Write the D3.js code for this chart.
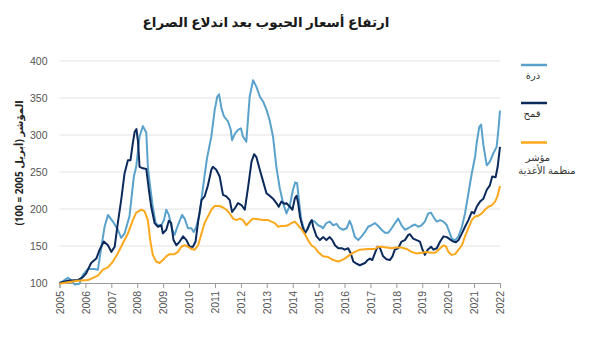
<!DOCTYPE html>
<html lang="ar">
<head>
<meta charset="utf-8">
<script src="https://cdn.jsdelivr.net/npm/d3@7"></script>
<style>
  html, body { margin: 0; padding: 0; background: #fff; }
  svg { display: block; font-family: "Open Sans", "DejaVu Sans", sans-serif; }
  .gridline { stroke: #e3e3e3; stroke-width: 1; }
  .axis path, .axis line { stroke: #9a9a9a; }
  .axis text { fill: #555; font-size: 10.5px; }
  .series { fill: none; stroke-width: 2; stroke-linejoin: round; }
</style>
</head>
<body>
<div id="chart"></div>
<script>
// Grain prices after the outbreak of the conflict: corn, wheat and the FAO index,
// indexed to April 2005 = 100. Values.

const title = "ارتفاع أسعار الحبوب بعد اندلاع الصراع";
const yTitle = "المؤشر (أبريل 2005 = 100)";
const yTicks = [100, 150, 200, 250, 300, 350, 400];
const xYears = d3.range(2005, 2023);

const cornDates = [2005.00, 2005.15, 2005.32, 2005.45, 2005.58, 2005.77, 2005.90, 2006.10, 2006.35, 2006.48,
  2006.60, 2006.74, 2006.87, 2007.06, 2007.25, 2007.38, 2007.51, 2007.70, 2007.87, 2007.96,
  2008.09, 2008.22, 2008.35, 2008.41, 2008.50, 2008.60, 2008.71, 2008.80, 2008.93, 2009.03,
  2009.12, 2009.22, 2009.35, 2009.44, 2009.57, 2009.73, 2009.83, 2009.96, 2010.09, 2010.18,
  2010.28, 2010.41, 2010.54, 2010.69, 2010.86, 2010.99, 2011.09, 2011.16, 2011.25, 2011.35,
  2011.51, 2011.61, 2011.66, 2011.77, 2011.89, 2012.00, 2012.08, 2012.21, 2012.34, 2012.47,
  2012.60, 2012.73, 2012.86, 2012.99, 2013.11, 2013.24, 2013.37, 2013.50, 2013.63, 2013.76,
  2013.89, 2014.01, 2014.10, 2014.17, 2014.24, 2014.33, 2014.47, 2014.59, 2014.72, 2014.85,
  2014.98, 2015.11, 2015.17, 2015.30, 2015.43, 2015.56, 2015.69, 2015.82, 2015.95, 2016.08,
  2016.20, 2016.27, 2016.40, 2016.53, 2016.66, 2016.79, 2016.91, 2017.04, 2017.17, 2017.30,
  2017.43, 2017.56, 2017.69, 2017.82, 2017.95, 2018.07, 2018.20, 2018.33, 2018.46, 2018.59,
  2018.72, 2018.85, 2018.97, 2019.10, 2019.23, 2019.34, 2019.47, 2019.56, 2019.69, 2019.82,
  2019.95, 2020.01, 2020.14, 2020.27, 2020.40, 2020.53, 2020.65, 2020.78, 2020.91, 2021.04,
  2021.10, 2021.20, 2021.27, 2021.36, 2021.49, 2021.61, 2021.74, 2021.87, 2021.93, 2022.00];
const cornValues = [100, 103, 107, 104, 98, 99, 111, 119, 119, 118,
  145, 176, 192, 183, 172, 161, 167, 190, 244, 257,
  298, 312, 303, 257, 230, 203, 181, 178, 178, 185,
  199, 192, 172, 165, 178, 192, 187, 174, 174, 169,
  176, 194, 230, 268, 298, 334, 352, 355, 336, 325,
  318, 307, 293, 302, 307, 309, 298, 291, 352, 374,
  365, 352, 345, 334, 320, 298, 257, 228, 208, 194,
  205, 226, 236, 235, 212, 185, 169, 174, 184, 183,
  178, 176, 174, 181, 183, 178, 180, 174, 172, 174,
  184, 178, 162, 158, 163, 169, 176, 178, 181, 177,
  172, 168, 168, 174, 181, 187, 178, 172, 174, 177,
  179, 176, 178, 183, 194, 195, 187, 183, 185, 183,
  178, 172, 160, 158, 163, 176, 194, 221, 248, 271,
  289, 311, 314, 286, 259, 264, 275, 284, 304, 333];

const wheatDates = [2005.00, 2005.32, 2005.71, 2005.90, 2006.03, 2006.22, 2006.42, 2006.55, 2006.71, 2006.87,
  2007.00, 2007.13, 2007.25, 2007.38, 2007.51, 2007.64, 2007.74, 2007.83, 2007.90, 2007.97,
  2008.03, 2008.09, 2008.22, 2008.35, 2008.45, 2008.54, 2008.67, 2008.80, 2008.93, 2008.99,
  2009.12, 2009.22, 2009.31, 2009.40, 2009.51, 2009.64, 2009.77, 2009.90, 2010.02, 2010.15,
  2010.25, 2010.35, 2010.48, 2010.60, 2010.73, 2010.86, 2010.92, 2011.05, 2011.18, 2011.31,
  2011.44, 2011.57, 2011.66, 2011.77, 2011.89, 2012.03, 2012.15, 2012.28, 2012.41, 2012.51,
  2012.60, 2012.73, 2012.86, 2012.99, 2013.11, 2013.24, 2013.37, 2013.46, 2013.56, 2013.69,
  2013.76, 2013.89, 2013.99, 2014.08, 2014.15, 2014.21, 2014.28, 2014.38, 2014.47, 2014.56,
  2014.66, 2014.74, 2014.79, 2014.92, 2015.05, 2015.18, 2015.30, 2015.43, 2015.53, 2015.63,
  2015.76, 2015.89, 2016.01, 2016.14, 2016.24, 2016.34, 2016.47, 2016.59, 2016.79, 2016.89,
  2016.98, 2017.07, 2017.17, 2017.27, 2017.36, 2017.49, 2017.62, 2017.75, 2017.85, 2017.94,
  2018.07, 2018.20, 2018.33, 2018.46, 2018.52, 2018.65, 2018.78, 2018.91, 2019.01, 2019.10,
  2019.21, 2019.34, 2019.43, 2019.56, 2019.69, 2019.82, 2019.95, 2020.07, 2020.20, 2020.30,
  2020.40, 2020.53, 2020.65, 2020.78, 2020.91, 2021.00, 2021.10, 2021.23, 2021.36, 2021.49,
  2021.61, 2021.70, 2021.83, 2021.91, 2022.00];
const wheatValues = [100, 103, 104, 108, 113, 127, 133, 145, 156, 151,
  142, 149, 181, 212, 248, 266, 266, 289, 304, 308,
  291, 257, 255, 254, 226, 203, 181, 176, 178, 167,
  172, 184, 181, 158, 151, 156, 163, 158, 149, 149,
  156, 183, 212, 217, 232, 253, 257, 253, 244, 219,
  217, 212, 196, 201, 208, 205, 199, 230, 264, 274,
  270, 253, 237, 221, 218, 214, 208, 203, 210, 207,
  208, 203, 199, 214, 218, 208, 190, 176, 167, 172,
  181, 185, 176, 163, 158, 162, 158, 162, 158, 151,
  147, 147, 145, 147, 140, 129, 126, 124, 127, 131,
  133, 131, 140, 149, 148, 136, 132, 131, 136, 145,
  147, 156, 158, 165, 166, 160, 158, 156, 145, 138,
  145, 149, 145, 147, 156, 163, 162, 159, 156, 155,
  158, 167, 176, 185, 196, 194, 203, 210, 214, 226,
  232, 244, 243, 257, 284];

const faoDates = [2005.00, 2005.32, 2005.71, 2006.10, 2006.29, 2006.48, 2006.68, 2006.87, 2007.06, 2007.25,
  2007.45, 2007.64, 2007.83, 2007.96, 2008.16, 2008.28, 2008.41, 2008.50, 2008.60, 2008.73,
  2008.86, 2008.99, 2009.12, 2009.25, 2009.44, 2009.57, 2009.70, 2009.83, 2009.96, 2010.09,
  2010.22, 2010.35, 2010.48, 2010.60, 2010.73, 2010.86, 2010.99, 2011.18, 2011.31, 2011.44,
  2011.57, 2011.70, 2011.83, 2011.96, 2012.08, 2012.21, 2012.34, 2012.47, 2012.66, 2012.86,
  2013.05, 2013.18, 2013.31, 2013.44, 2013.56, 2013.69, 2013.82, 2013.95, 2014.08, 2014.21,
  2014.33, 2014.47, 2014.59, 2014.72, 2014.85, 2014.98, 2015.17, 2015.37, 2015.56, 2015.76,
  2015.89, 2016.01, 2016.20, 2016.40, 2016.59, 2016.91, 2017.17, 2017.30, 2017.43, 2017.62,
  2017.82, 2018.01, 2018.20, 2018.39, 2018.59, 2018.78, 2018.97, 2019.16, 2019.36, 2019.50,
  2019.69, 2019.82, 2019.92, 2020.01, 2020.14, 2020.27, 2020.40, 2020.53, 2020.65, 2020.78,
  2020.91, 2021.04, 2021.17, 2021.30, 2021.42, 2021.55, 2021.68, 2021.81, 2021.90, 2022.00];
const faoValues = [99, 101, 103, 104, 107, 110, 118, 121, 129, 140,
  154, 167, 185, 195, 199, 197, 185, 158, 138, 129,
  127, 131, 136, 139, 139, 142, 149, 151, 149, 146,
  145, 151, 167, 181, 190, 199, 204, 204, 202, 199,
  194, 187, 185, 187, 185, 178, 183, 187, 186, 185,
  185, 183, 181, 176, 177, 177, 178, 181, 183, 178,
  173, 166, 158, 151, 148, 142, 136, 135, 131, 129,
  131, 133, 138, 142, 145, 146, 146, 149, 149, 148,
  147, 148, 148, 146, 142, 140, 141, 142, 141, 141,
  147, 151, 149, 142, 138, 139, 145, 151, 163, 174,
  185, 190, 191, 194, 199, 203, 205, 210, 217, 231];

const seriesNames = ["ذرة", "قمح", "مؤشر منظمة الأغذية"];
const seriesColors = ["#5aa2cb", "#0b2a5b", "#fca81c"];

const series = [
  { name: seriesNames[0], color: seriesColors[0], dates: cornDates, values: cornValues },
  { name: seriesNames[1], color: seriesColors[1], dates: wheatDates, values: wheatValues },
  { name: seriesNames[2], color: seriesColors[2], dates: faoDates, values: faoValues },
];

const width = 600, height = 352;
const m = { top: 61, right: 100, bottom: 69, left: 59.5 };
const iW = width - m.left - m.right;
const iH = height - m.top - m.bottom;

const x = d3.scaleLinear([2005, 2022], [0, iW]);
const y = d3.scaleLinear([100, 400], [iH, 0]);

const svg = d3.select("#chart").append("svg")
  .attr("width", width).attr("height", height)
  .attr("viewBox", `0 0 ${width} ${height}`);

svg.append("text")
  .attr("x", 266).attr("y", 27).attr("text-anchor", "middle")
  .attr("direction", "rtl")
  .style("font-size", "13.5px").style("font-weight", "bold").style("fill", "#1a1a1a")
  .text(title);

const g = svg.append("g").attr("transform", `translate(${m.left},${m.top})`);

g.append("g").selectAll("line").data(yTicks.filter((d) => d > 100)).join("line")
  .attr("class", "gridline")
  .attr("x1", 0).attr("x2", iW).attr("y1", (d) => y(d)).attr("y2", (d) => y(d));

// y labels only, no axis line
const yAxis = g.append("g").attr("class", "axis")
  .call(d3.axisLeft(y).tickValues(yTicks).tickSize(0).tickPadding(12));
yAxis.select(".domain").remove();

const xAxis = g.append("g").attr("class", "axis").attr("transform", `translate(0,${iH})`)
  .call(d3.axisBottom(x).tickValues(xYears).tickSize(5).tickFormat(d3.format("d")));
xAxis.selectAll("text")
  .attr("transform", "rotate(-90)")
  .attr("text-anchor", "end")
  .attr("x", -8).attr("y", 0).attr("dy", "0.35em");

g.append("text")
  .attr("transform", `translate(${-37},${iH / 2 - 9}) rotate(-90)`)
  .attr("text-anchor", "middle").attr("direction", "rtl")
  .style("font-size", "10px").style("font-weight", "bold").style("fill", "#222")
  .text(yTitle);

const line = d3.line().curve(d3.curveLinear);
for (const s of series) {
  const pts = s.dates.map((d, i) => [x(d), y(s.values[i])]);
  g.append("path").datum(pts).attr("class", "series")
    .attr("stroke", s.color).attr("d", line);
}

// Legend on the right: swatch above each label.
const legend = svg.append("g").attr("transform", "translate(521,0)");
const legendRows = [
  { sy: 65, lines: [{ t: "ذرة", x: 12, y: 79 }] },
  { sy: 103, lines: [{ t: "قمح", x: 11, y: 117 }] },
  { sy: 142.5, lines: [{ t: "مؤشر", x: 17, y: 161 }, { t: "منظمة الأغذية", x: 26, y: 174 }] },
];
legendRows.forEach((r, i) => {
  legend.append("line").attr("x1", 0).attr("x2", 26).attr("y1", r.sy).attr("y2", r.sy)
    .attr("stroke", series[i].color).attr("stroke-width", 2.5);
  for (const l of r.lines) {
    legend.append("text").attr("x", l.x).attr("y", l.y).attr("text-anchor", "middle")
      .attr("direction", "rtl")
      .style("font-size", "10px").style("fill", "#333").text(l.t);
  }
});
</script>
</body>
</html>
